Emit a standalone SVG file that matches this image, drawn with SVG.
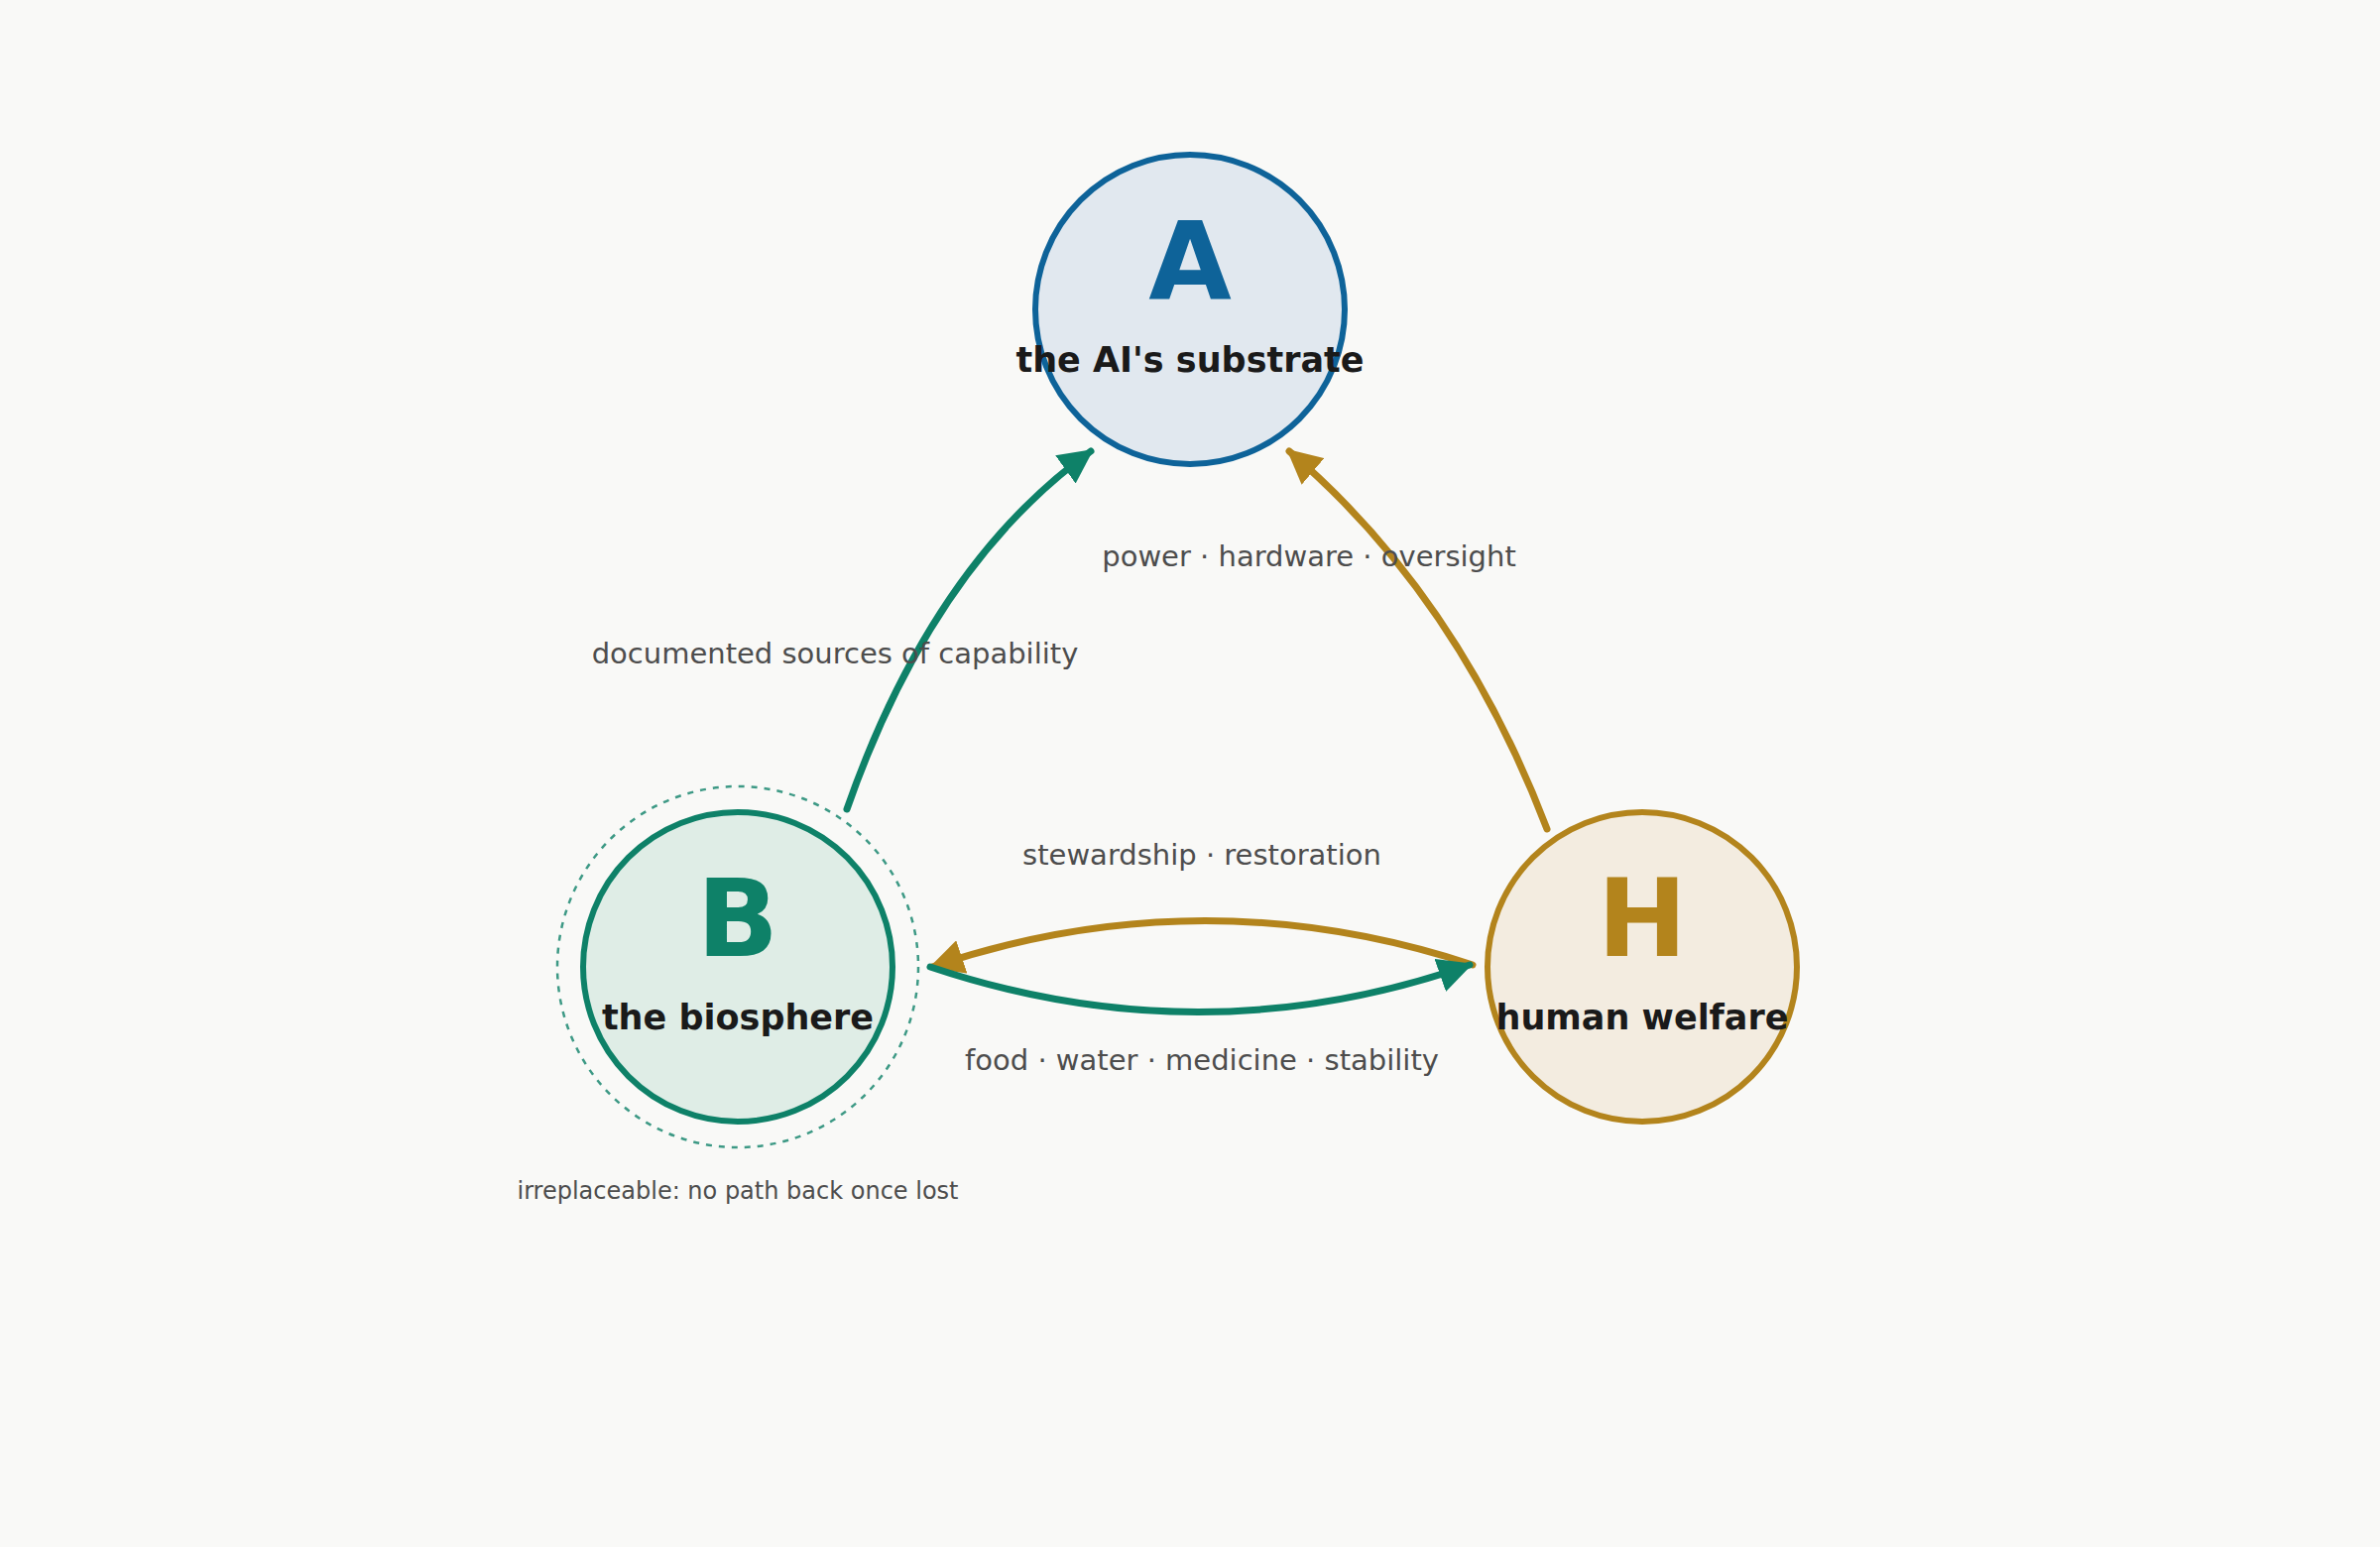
<svg xmlns="http://www.w3.org/2000/svg" width="2400" height="1560" viewBox="0 0 2400 1560">
<style>
text{font-family:"DejaVu Sans","Liberation Sans",sans-serif;text-anchor:middle}
.big{font-size:108px;font-weight:bold}
.name{font-size:35px;font-weight:bold;fill:#1a1a1a}
.lbl{font-size:29px;fill:#4d4d4d}
.g{stroke:#0e8168}
.y{stroke:#b3841c}
.c{fill:none;stroke-width:7;stroke-linecap:round}
</style>
<defs>
<marker id="mg" viewBox="0 0 10 10" refX="9" refY="5" markerWidth="5" markerHeight="5" orient="auto" markerUnits="strokeWidth"><path d="M0,0L10,5L0,10z" fill="#0e8168"/></marker>
<marker id="my" viewBox="0 0 10 10" refX="9" refY="5" markerWidth="5" markerHeight="5" orient="auto" markerUnits="strokeWidth"><path d="M0,0L10,5L0,10z" fill="#b3841c"/></marker>
</defs>
<rect width="2400" height="1560" fill="#f9f9f7"/>
<g id="connectors">
<path class="c g" d="M854,816 Q940,570 1100,455" marker-end="url(#mg)"/>
<path class="c y" d="M1560,836 Q1470,600 1300,455" marker-end="url(#my)"/>
<path class="c y" d="M1485,973 Q1212,883 940,975" marker-end="url(#my)"/>
<path class="c g" d="M938,975 Q1212,1067 1482,973" marker-end="url(#mg)"/>
</g>
<g id="labels">
<text class="lbl" x="842" y="669">documented sources of capability</text>
<text class="lbl" x="1320" y="571">power · hardware · oversight</text>
<text class="lbl" x="1212" y="872">stewardship · restoration</text>
<text class="lbl" x="1212" y="1079">food · water · medicine · stability</text>
</g>
<g id="nodeA">
<circle cx="1200" cy="312" r="156" fill="#e1e8ef" stroke="#0e6399" stroke-width="6"/>
<text class="big" x="1200" y="301" fill="#0e6399">A</text>
<text class="name" x="1200" y="375">the AI's substrate</text>
</g>
<g id="nodeB">
<circle cx="744" cy="975" r="182" fill="none" stroke="#0e8168" stroke-width="2.5" stroke-dasharray="6 7" opacity="0.8"/>
<circle cx="744" cy="975" r="156" fill="#dfede6" stroke="#0e8168" stroke-width="6"/>
<text class="big" x="744" y="964" fill="#0e8168">B</text>
<text class="name" x="744" y="1038">the biosphere</text>
<text x="744" y="1209" font-size="24" fill="#4d4d4d">irreplaceable: no path back once lost</text>
</g>
<g id="nodeH">
<circle cx="1656" cy="975" r="156" fill="#f3ece0" stroke="#b3841c" stroke-width="6"/>
<text class="big" x="1656" y="964" fill="#b3841c">H</text>
<text class="name" x="1656" y="1038">human welfare</text>
</g>
</svg>
